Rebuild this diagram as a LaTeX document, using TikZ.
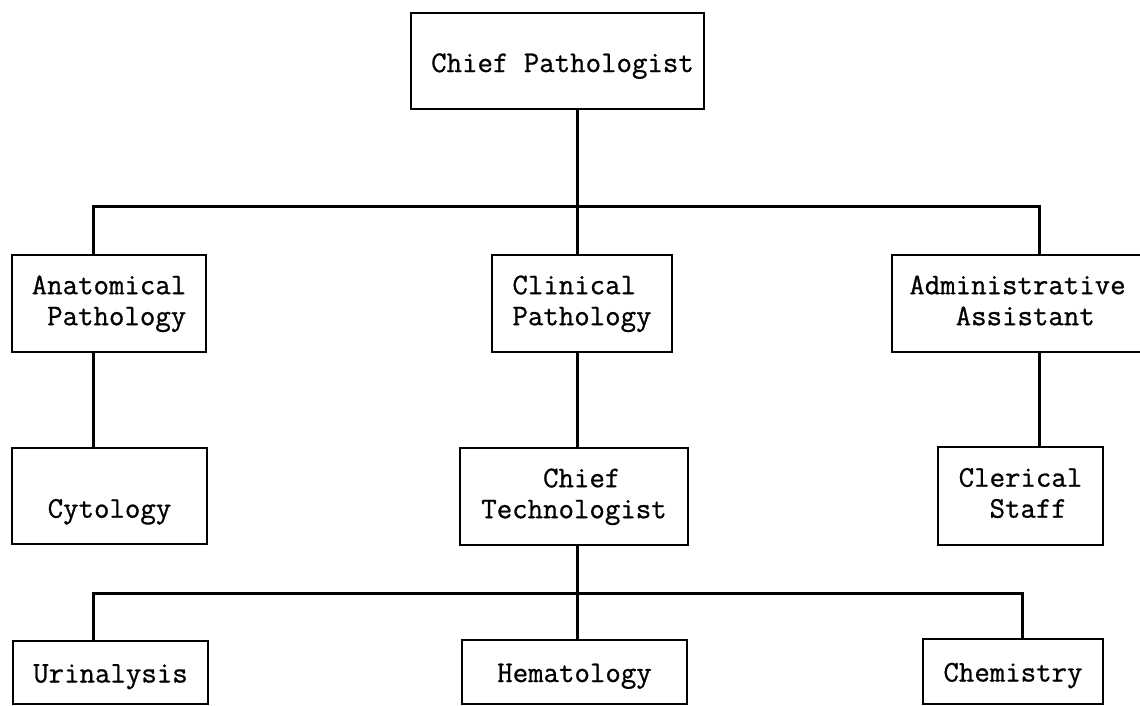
\documentclass[tikz,border=0pt]{standalone}
\usepackage{fontspec}
\newfontfamily\twfont{Latin Modern Mono}[FakeBold=0.8]
\begin{document}
\begin{tikzpicture}[x=1pt,y=-1pt,
  box/.style={draw, line width=2.8pt, rectangle, inner sep=0pt, align=left,
    font=\twfont\fontsize{30}{31}\selectfont},
  oneline/.style={text height=40pt, text depth=18pt},
  lowline/.style={text height=38pt, text depth=18pt},
  wire/.style={line width=3pt}]
\useasboundingbox (0,0) rectangle (1140,705);
\clip (0,0) rectangle (1140,705);

% top level
\node[box, oneline, minimum width=293pt, minimum height=96pt] (cp) at (557.5,61)
  {\hspace*{10pt}Chief Pathologist};

% second level
\node[box, minimum width=194pt, minimum height=97pt] (ap) at (109,303.5)
  {\strut Anatomical\\\strut~Pathology};
\node[box, minimum width=180pt, minimum height=97pt] (clin) at (582,303.5)
  {\strut Clinical\\\strut Pathology};
\node[box, minimum width=251pt, minimum height=97pt] (aa) at (1017.5,303.5)
  {\strut Administrative\\\strut~~~Assistant};

% third level
\node[box, minimum width=195pt, minimum height=96pt] (cyt) at (109.5,496)
  {\strut\\\strut Cytology};
\node[box, minimum width=228pt, minimum height=97pt] (ct) at (574,496.5)
  {\strut~~~~Chief\\\strut Technologist};
\node[box, minimum width=165pt, minimum height=98pt] (cs) at (1020.5,496)
  {\strut Clerical\\\strut~~Staff};

% laboratory sections
\node[box, lowline, minimum width=195pt, minimum height=63pt] (uri) at (110.5,672.5)
  {Urinalysis};
\node[box, lowline, minimum width=225pt, minimum height=64pt] (hem) at (574.5,672)
  {Hematology};
\node[box, lowline, minimum width=180pt, minimum height=65pt] (chem) at (1013,671.5)
  {Chemistry};

% upper bus
\coordinate (t1) at (577,206);
\coordinate (l1) at (93,206);
\coordinate (r1) at (1039,206);
\draw[wire] (cp.south -| t1) -- (t1) -- (clin.north -| t1);
\draw[wire] (ap.north -| l1) -- (l1) -- (r1) -- (aa.north -| r1);

% single drops
\draw[wire] (ap.south -| l1) -- (cyt.north -| l1);
\draw[wire] (clin.south -| t1) -- (ct.north -| t1);
\draw[wire] (aa.south -| r1) -- (cs.north -| r1);

% lower bus
\coordinate (t2) at (577,593);
\coordinate (l2) at (93,593);
\coordinate (r2) at (1022,593);
\draw[wire] (ct.south -| t2) -- (hem.north -| t2);
\draw[wire] (uri.north -| l2) -- (l2) -- (r2) -- (chem.north -| r2);
\end{tikzpicture}
\end{document}
